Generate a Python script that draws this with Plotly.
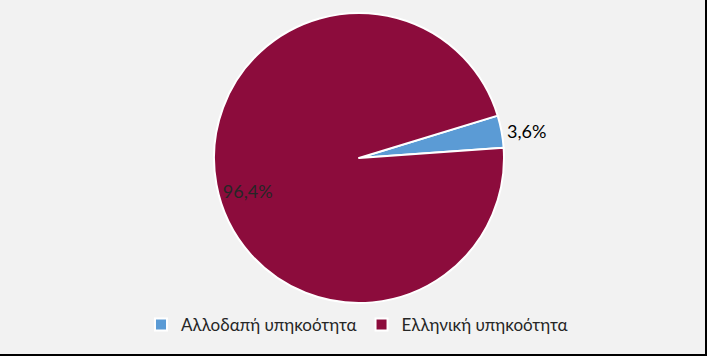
import plotly.graph_objects as go

labels = ["Αλλοδαπή υπηκοότητα", "Ελληνική υπηκοότητα"]
values = [3.6, 96.4]
text_labels = ["3,6%", "96,4%"]
colors = ["#5B9BD5", "#8C0C3C"]

W, H = 707, 356
L, R, T, B = 11, 0, 13, 53
FONT = "Lato, Open Sans, sans-serif"

outside_text = [text_labels[0], ""]
inside_text = ["", text_labels[1]]

fig = go.Figure()
fig.add_trace(go.Pie(
    labels=labels,
    values=values,
    text=outside_text,
    textinfo="text",
    textposition="outside",
    marker=dict(colors=colors, line=dict(color="white", width=2)),
    sort=False,
    direction="clockwise",
    rotation=73,
    textfont=dict(family=FONT, size=18, color="#000000"),
    showlegend=True,
))
# transparent overlay ring used only to place the large slice's label
fig.add_trace(go.Pie(
    labels=labels,
    values=values,
    text=inside_text,
    textinfo="text",
    textposition="inside",
    insidetextorientation="horizontal",
    marker=dict(colors=["rgba(0,0,0,0)"] * 2, line=dict(width=0)),
    sort=False,
    direction="clockwise",
    rotation=67,
    hole=0.6,
    textfont=dict(family=FONT, size=18, color="#262626"),
    showlegend=False,
    hoverinfo="skip",
))

pw = W - L - R
ph = H - T - B
fig.update_layout(
    width=W, height=H,
    margin=dict(l=L, r=R, t=T, b=B, autoexpand=False),
    paper_bgcolor="#F2F2F2",
    plot_bgcolor="#F2F2F2",
    legend=dict(orientation="h", x=(357 - L) / pw, xanchor="center",
                y=1 - (325 - T) / ph, yanchor="middle",
                font=dict(family=FONT, size=17, color="#262626"),
                traceorder="normal", bgcolor="rgba(0,0,0,0)"),
    shapes=[
        dict(type="line", xref="paper", yref="paper",
             x0=(706 - L) / pw, x1=(706 - L) / pw, y0=1 + T / ph, y1=1 - (H - T) / ph,
             line=dict(color="black", width=2)),
        dict(type="line", xref="paper", yref="paper",
             x0=-L / pw, x1=(W - L) / pw, y0=1 - (355 - T) / ph, y1=1 - (355 - T) / ph,
             line=dict(color="black", width=2)),
    ],
)

fig.write_html("out.html")
